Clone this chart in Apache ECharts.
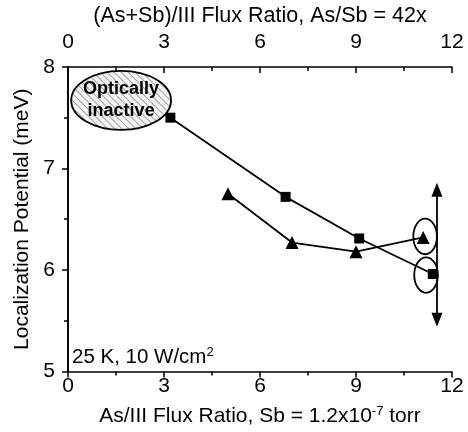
<!DOCTYPE html>
<html>
<head>
<meta charset="utf-8">
<script src="https://cdn.jsdelivr.net/npm/echarts@6/dist/echarts.min.js"></script>
<style>
  html, body { margin: 0; padding: 0; background: #fff; }
  #box { width: 468px; height: 432px; }
</style>
</head>
<body>
<div id="box"></div>
<script>
  // squares: As/III flux ratio series
  const squareX = [3.2, 6.8, 9.1, 11.4]
  const squareY = [7.50, 6.72, 6.31, 5.96]
  // triangles: (As+Sb)/III flux ratio series
  const triX = [5.0, 7.0, 9.0, 11.1]
  const triY = [6.75, 6.27, 6.18, 6.32]
  const xTicks = [0, 3, 6, 9, 12]
  const yTicks = [5, 6, 7, 8]
  // error arrow (range of last points)
  const arrowX = 11.53
  const arrowTop = 6.86
  const arrowBottom = 5.44

  const font = 'Liberation Sans, Arial, Helvetica, sans-serif'

  // hatch pattern for "optically inactive" region
  const pat = document.createElement('canvas')
  pat.width = 7
  pat.height = 7
  const pc = pat.getContext('2d')
  pc.fillStyle = '#f6f6f6'
  pc.fillRect(0, 0, 7, 7)
  pc.strokeStyle = '#a8a8a8'
  pc.lineWidth = 1.2
  pc.beginPath()
  pc.moveTo(-1, -1); pc.lineTo(8, 8)
  pc.moveTo(-8, -1); pc.lineTo(1, 8)
  pc.moveTo(6, -1); pc.lineTo(15, 8)
  pc.stroke()

  const zip = (xs, ys) => xs.map((x, i) => [x, ys[i]])

  const myChart = echarts.init(document.getElementById('box'))
  const axisLine = { show: true, lineStyle: { color: '#000', width: 1.6 } }
  const labelStyle = { color: '#000', fontSize: 21, fontFamily: font }
  const tickStyle = { color: '#000', width: 1.5 }

  const option = {
    animation: false,
    grid: { left: 68, right: 16, top: 64, bottom: 60 },
    textStyle: { fontFamily: font },
    xAxis: [
      {
        type: 'value', position: 'bottom', min: 0, max: 12, interval: 3,
        axisLine: axisLine,
        axisTick: { show: true, inside: false, length: 6, lineStyle: tickStyle },
        minorTick: { show: true, splitNumber: 2, length: 4, lineStyle: tickStyle },
        splitLine: { show: false },
        axisLabel: Object.assign({ margin: 4, formatter: v => xTicks.includes(v) ? String(v) : '' }, labelStyle),
        name: '{a|As/III Flux Ratio, Sb = 1.2x10}{s|-7}{a| torr}',
        nameLocation: 'middle', nameGap: 33,
        nameTextStyle: {
          rich: {
            a: { fontSize: 21, color: '#000', fontFamily: font },
            s: { fontSize: 13, color: '#000', fontFamily: font, verticalAlign: 'top', padding: [0, 0, 11, 0] }
          }
        }
      },
      {
        type: 'value', position: 'top', min: 0, max: 12, interval: 3,
        axisLine: axisLine,
        axisTick: { show: true, inside: true, length: 6, lineStyle: tickStyle },
        minorTick: { show: true, splitNumber: 2, length: 4, lineStyle: tickStyle },
        splitLine: { show: false },
        axisLabel: Object.assign({ margin: 14 }, labelStyle),
        name: '(As+Sb)/III Flux Ratio, As/Sb = 42x',
        nameLocation: 'middle', nameGap: 37,
        nameTextStyle: { fontSize: 21.5, color: '#000', fontFamily: font }
      }
    ],
    yAxis: [
      {
        type: 'value', position: 'left', min: 5, max: 8, interval: 1,
        axisLine: axisLine,
        axisTick: { show: true, inside: false, length: 6, lineStyle: tickStyle },
        minorTick: { show: true, splitNumber: 2, length: 4, lineStyle: tickStyle },
        splitLine: { show: false },
        axisLabel: Object.assign({ margin: 13, formatter: v => yTicks.includes(v) ? String(v) : '' }, labelStyle),
        name: 'Localization Potential (meV)',
        nameLocation: 'middle', nameGap: 30, nameRotate: 90,
        nameTextStyle: { fontSize: 21, color: '#000', fontFamily: font }
      },
      {
        type: 'value', position: 'right', min: 5, max: 8, interval: 1,
        axisLine: axisLine,
        axisTick: { show: true, inside: true, length: 6, lineStyle: tickStyle },
        minorTick: { show: true, splitNumber: 2, length: 4, lineStyle: tickStyle },
        splitLine: { show: false },
        axisLabel: { show: false }
      }
    ],
    graphic: [
      {
        type: 'text', left: 72, top: 346,
        style: {
          text: '{a|25 K, 10 W/cm}{s|2}',
          rich: {
            a: { fontSize: 20.5, fill: '#000', fontFamily: font },
            s: { fontSize: 13, fill: '#000', fontFamily: font, verticalAlign: 'top', padding: [0, 0, 10, 0] }
          }
        }
      }
    ],
    series: [
      {
        // annotation ellipses: [x, y, halfWidth, halfHeight, hatched] in data units
        type: 'custom',
        z: 1,
        silent: true,
        data: [[1.66, 7.67, 1.56, 0.29, 1], [11.16, 6.33, 0.37, 0.175, 0], [11.19, 5.95, 0.37, 0.175, 0]],
        renderItem: (params, api) => {
          const c = api.coord([api.value(0), api.value(1)])
          const s = api.size([api.value(2), api.value(3)])
          const hatched = api.value(4) === 1
          const children = [{
            type: 'ellipse',
            shape: { cx: c[0], cy: c[1], rx: s[0], ry: s[1] },
            style: { fill: hatched ? { image: pat, repeat: 'repeat' } : 'none', stroke: '#000', lineWidth: 1.8 }
          }]
          if (hatched) {
            children.push({
              type: 'text',
              x: c[0], y: c[1],
              style: {
                text: 'Optically\ninactive', fontSize: 18, fontWeight: 'bold', fontFamily: font,
                fill: '#000', align: 'center', verticalAlign: 'middle', lineHeight: 22
              }
            })
          }
          return { type: 'group', children: children }
        }
      },
      {
        name: 'As/III',
        type: 'line',
        z: 3,
        data: zip(squareX, squareY),
        symbol: 'rect', symbolSize: 10,
        itemStyle: { color: '#000' },
        lineStyle: { color: '#000', width: 1.8 },
        markLine: {
          silent: true,
          symbol: ['none', 'triangle'],
          symbolSize: [11, 14],
          label: { show: false },
          lineStyle: { color: '#000', width: 1.8, type: 'solid' },
          data: [
            [{ coord: [arrowX, 6.15] }, { coord: [arrowX, arrowTop - 0.07] }],
            [{ coord: [arrowX, 6.15] }, { coord: [arrowX, arrowBottom + 0.07] }]
          ]
        }
      },
      {
        name: '(As+Sb)/III',
        type: 'line',
        z: 3,
        data: zip(triX, triY),
        symbol: 'triangle', symbolSize: 13,
        itemStyle: { color: '#000' },
        lineStyle: { color: '#000', width: 1.8 }
      }
    ]
  }
  myChart.setOption(option)
</script>
</body>
</html>
